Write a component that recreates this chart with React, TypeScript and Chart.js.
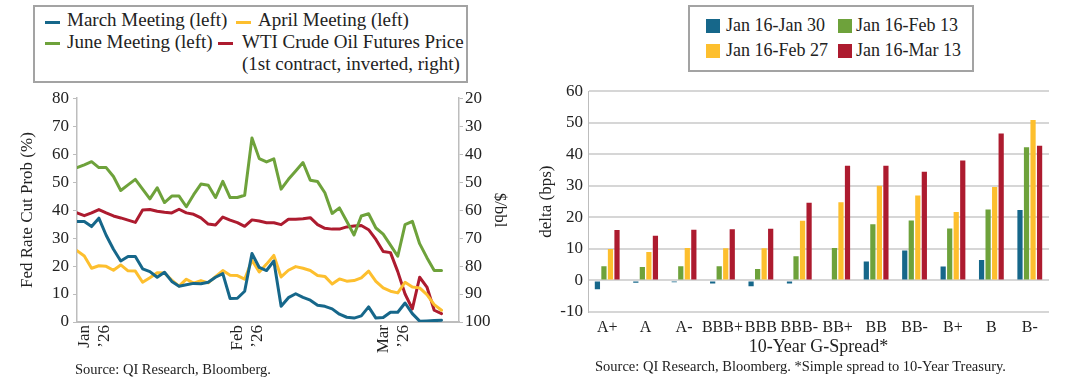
import React, { useEffect, useRef } from "react";
import { Chart, registerables } from "chart.js";
Chart.register(...registerables);

// ---------- Left chart data ----------
const dates = [
  "2025-12-31", "2026-01-02", "2026-01-05", "2026-01-06", "2026-01-07", "2026-01-08", "2026-01-09",
  "2026-01-12", "2026-01-13", "2026-01-14", "2026-01-15", "2026-01-16",
  "2026-01-19", "2026-01-20", "2026-01-21", "2026-01-22", "2026-01-23",
  "2026-01-26", "2026-01-27", "2026-01-28", "2026-01-29", "2026-01-30",
  "2026-02-02", "2026-02-03", "2026-02-04", "2026-02-05", "2026-02-06",
  "2026-02-09", "2026-02-10", "2026-02-11", "2026-02-12", "2026-02-13",
  "2026-02-16", "2026-02-17", "2026-02-18", "2026-02-19", "2026-02-20",
  "2026-02-23", "2026-02-24", "2026-02-25", "2026-02-26", "2026-02-27",
  "2026-03-02", "2026-03-03", "2026-03-04", "2026-03-05", "2026-03-06",
  "2026-03-09", "2026-03-10", "2026-03-11", "2026-03-12",
];
const marchMeeting = [
  35.9, 35.9, 34.1, 37.1, 31, 26, 21.8, 23.4, 23.4, 19,
  18, 16, 17.8, 14.5, 12.8, 13.3, 13.8, 13.7, 14.2, 16,
  17.3, 8.4, 8.5, 11, 24.5, 19.5, 18.4, 21.8, 5.6, 8.7,
  10.1, 8.8, 7.8, 6, 5.6, 4.7, 2.8, 1.7, 1.4, 2.2,
  5.4, 1.4, 1.6, 3.5, 3.5, 6.8, 3, 0.3, 0.4, 0.5, 0.6,
];
const aprilMeeting = [
  25.5, 23.6, 19.2, 20.1, 19.9, 18.5, 20.4, 18.3, 18.2, 14.2,
  15.8, 17.6, 17.5, 15, 12.8, 15.3, 13.9, 14.8, 14, 16.2,
  18.4, 16.7, 16.6, 15.3, 22.1, 17.9, 20.7, 23.8, 16.1, 18.5,
  19.8, 19.2, 18.4, 16.6, 16.3, 13.6, 15.4, 14.6, 14.8, 15.8,
  18.2, 14.5, 12.2, 11, 10.4, 14.2, 12.5, 12.2, 9.8, 6.2, 4.2,
];
const juneMeeting = [
  55.2, 56.2, 57.3, 55.2, 55.2, 52, 47, 49, 51, 47.5,
  44, 48, 42.7, 45, 45, 41.2, 45.5, 49.3, 48.9, 44.5,
  50.3, 44.5, 44.5, 45.3, 65.8, 58.4, 57.2, 58.3, 47.5, 51,
  54, 57, 50.7, 50.2, 46.2, 38.8, 40.8, 36, 31.1, 37.9,
  38.7, 33.6, 31.4, 27.5, 23.5, 34.8, 36, 28, 23, 18.4, 18.4,
];
const wtiPrice = [
  61, 62, 61, 59.8, 61, 62.1, 62.8, 63.6, 64.4, 60,
  59.8, 60.4, 60.8, 61, 59.7, 61, 61.5, 62.8, 65, 65.3,
  62.5, 63.6, 64.5, 65.8, 63.5, 63.9, 64.5, 64.5, 65.2, 63.3,
  63.3, 63.1, 62.7, 65.2, 66.5, 66.8, 66.8, 66, 65.7, 65.5,
  67, 70.5, 74.8, 75.2, 82, 90, 95.3, 84, 87.5, 95.8, 97,
];
const monthTickDates = ["2026-01-02", "2026-02-02", "2026-03-02"];
const monthTickLabels = [["Jan", "\u201926"], ["Feb", "\u201926"], ["Mar", "\u201926"]];

// ---------- Right chart data ----------
const ratings = ["A+", "A", "A-", "BBB+", "BBB", "BBB-", "BB+", "BB", "BB-", "B+", "B", "B-"];
const jan16Jan30 = [-2.8, -0.7, -0.6, -1, -1.8, -1, 0, 6, 9.5, 4.4, 6.5, 22.3];
const jan16Feb13 = [4.5, 4.3, 4.5, 4.5, 3.6, 7.7, 10.3, 17.8, 19, 16.5, 22.5, 42.2];
const jan16Feb27 = [10, 9, 10.3, 10.2, 10.2, 18.9, 24.8, 30, 26.9, 21.7, 29.6, 50.9];
const jan16Mar13 = [16, 14.2, 16.1, 16.2, 16.4, 24.6, 36.4, 36.4, 34.5, 38, 46.6, 42.7];

const BLUE = "#16678a";
const YELLOW = "#fdbf2e";
const GREEN = "#6ea23b";
const RED = "#ad1b2f";
const TEXT = "#222222";
const AXIS = "#bdbdbd";
const FAMILY = "'Liberation Serif', 'Times New Roman', serif";
const font = { family: FAMILY, size: 17 };

function LineChart() {
  const ref = useRef<HTMLCanvasElement>(null);
  useEffect(() => {
    const tickIdx = monthTickDates.map((d) => dates.indexOf(d));
    const xy = (arr: number[]) => arr.map((v, i) => ({ x: i, y: v }));
    const chart = new Chart(ref.current!, {
      type: "line",
      data: {
        datasets: [
          { label: "March Meeting (left)", data: xy(marchMeeting), borderColor: BLUE, yAxisID: "y" },
          { label: "April Meeting (left)", data: xy(aprilMeeting), borderColor: YELLOW, yAxisID: "y" },
          { label: "June Meeting (left)", data: xy(juneMeeting), borderColor: GREEN, yAxisID: "y" },
          { label: "WTI Crude Oil Futures Price (1st contract, inverted, right)", data: xy(wtiPrice), borderColor: RED, yAxisID: "y2" },
        ],
      },
      options: {
        responsive: false,
        animation: false,
        layout: { padding: { top: 12, left: 0, right: 0, bottom: 0 } },
        plugins: { legend: { display: false }, tooltip: { enabled: false } },
        elements: {
          point: { radius: 0 },
          line: { borderWidth: 3, tension: 0, borderJoinStyle: "round", borderCapStyle: "round" },
        },
        scales: {
          x: {
            type: "linear",
            min: 0,
            max: 52.4,
            afterBuildTicks: (s: any) => {
              s.ticks = tickIdx.map((v) => ({ value: v }));
            },
            ticks: {
              autoSkip: false,
              minRotation: 90,
              maxRotation: 90,
              padding: 3,
              color: TEXT,
              font,
              callback: (v: any) => {
                const k = tickIdx.indexOf(Number(v));
                return k >= 0 ? monthTickLabels[k] : "";
              },
            },
            grid: { display: false, drawTicks: false },
            border: { display: true, color: AXIS, width: 2 },
            afterFit: (s: any) => {
              s.height = 40;
            },
          },
          y: {
            position: "left",
            min: 0,
            max: 80,
            ticks: { stepSize: 10, padding: 4, color: TEXT, font },
            grid: { drawOnChartArea: false, drawTicks: true, tickLength: 4, color: AXIS },
            border: { display: true, color: AXIS, width: 1.5 },
            title: { display: true, text: "Fed Rate Cut Prob (%)", color: TEXT, font, padding: { top: 17, bottom: 0 } },
            afterFit: (s: any) => {
              s.width = 77;
            },
          },
          y2: {
            position: "right",
            min: 20,
            max: 100,
            reverse: true,
            ticks: { stepSize: 10, padding: 2, color: TEXT, font },
            grid: { drawOnChartArea: false, drawTicks: true, tickLength: 4, color: AXIS },
            border: { display: true, color: AXIS, width: 1.5 },
            title: { display: true, text: "$/bbl", color: TEXT, font, padding: { top: 10, bottom: 0 } },
            afterFit: (s: any) => {
              s.width = 61;
            },
          },
        },
      } as any,
    });
    return () => chart.destroy();
  }, []);
  return <canvas ref={ref} width={520} height={278} style={{ position: "absolute", left: 0, top: 84 }} />;
}

function BarChart() {
  const ref = useRef<HTMLCanvasElement>(null);
  useEffect(() => {
    const chart = new Chart(ref.current!, {
      type: "bar",
      data: {
        labels: ratings,
        datasets: [
          { label: "Jan 16-Jan 30", data: jan16Jan30, backgroundColor: BLUE },
          { label: "Jan 16-Feb 13", data: jan16Feb13, backgroundColor: GREEN },
          { label: "Jan 16-Feb 27", data: jan16Feb27, backgroundColor: YELLOW },
          { label: "Jan 16-Mar 13", data: jan16Mar13, backgroundColor: RED },
        ],
      },
      options: {
        responsive: false,
        animation: false,
        layout: { padding: { top: 10, right: 31, left: 0, bottom: 0 } },
        plugins: { legend: { display: false }, tooltip: { enabled: false } },
        datasets: { bar: { categoryPercentage: 0.68, barPercentage: 0.8 } },
        scales: {
          x: {
            grid: { display: false, drawTicks: false },
            border: { display: false },
            ticks: { padding: 6, color: TEXT, font: { family: FAMILY, size: 16 }, maxRotation: 0, autoSkip: false },
            title: { display: true, text: "10-Year G-Spread*", color: TEXT, font: { family: FAMILY, size: 18 }, padding: { top: 0, bottom: 0 } },
            afterFit: (s: any) => {
              s.height = 46;
            },
          },
          y: {
            min: -10,
            max: 60,
            ticks: { stepSize: 10, padding: 5, color: TEXT, font },
            grid: { color: "#d6d6d6", lineWidth: 2, drawTicks: false },
            border: { display: true, color: AXIS, width: 1 },
            title: { display: true, text: "delta (bps)", color: TEXT, font, padding: { top: 2, bottom: 0 } },
            afterFit: (s: any) => {
              s.width = 54;
            },
          },
        },
      } as any,
    });
    return () => chart.destroy();
  }, []);
  return <canvas ref={ref} width={546} height={282} style={{ position: "absolute", left: 534, top: 76 }} />;
}

// Text positioned by its baseline (Liberation Serif metrics)
const txt = (left: number, baseline: number, text: string, size: number): React.ReactElement => {
  const lh = Math.round(size * 1.2);
  const top = baseline - ((lh - 1.107 * size) / 2 + 0.891 * size);
  return (
    <div
      key={text + left + baseline}
      style={{
        position: "absolute",
        left,
        top,
        lineHeight: lh + "px",
        fontSize: size,
        color: TEXT,
        whiteSpace: "nowrap",
        fontFamily: FAMILY,
      }}
    >
      {text}
    </div>
  );
};

const lineSwatch = (left: number, center: number, color: string) => (
  <div key={"l" + left + center} style={{ position: "absolute", left, top: center - 1.5, width: 15, height: 3, background: color }} />
);
const boxSwatch = (left: number, top: number, color: string) => (
  <div key={"b" + left + top} style={{ position: "absolute", left, top, width: 14, height: 14, background: color }} />
);

export default function App() {
  return (
    <div
      style={{
        position: "fixed",
        left: 0,
        top: 0,
        width: 1080,
        height: 380,
        background: "#fff",
        overflow: "hidden",
        fontFamily: FAMILY,
      }}
    >
      {/* Left legend */}
      <div style={{ position: "absolute", left: 33, top: 5, width: 435, height: 78, border: "2px solid #a3a3a3", boxSizing: "border-box" }} />
      {lineSwatch(45, 22, BLUE)}
      {txt(67, 26, "March Meeting (left)", 19)}
      {lineSwatch(236, 22, YELLOW)}
      {txt(258, 26, "April Meeting (left)", 19)}
      {lineSwatch(45, 43.5, GREEN)}
      {txt(67, 48, "June Meeting (left)", 19)}
      {lineSwatch(218, 43.5, RED)}
      {txt(242, 48, "WTI Crude Oil Futures Price", 19)}
      {txt(242, 69.5, "(1st contract, inverted, right)", 19)}

      {/* Right legend */}
      <div style={{ position: "absolute", left: 688, top: 5, width: 286, height: 67, border: "2px solid #a3a3a3", boxSizing: "border-box" }} />
      {boxSwatch(706, 19, BLUE)}
      {txt(726, 31, "Jan 16-Jan 30", 18)}
      {boxSwatch(838, 19, GREEN)}
      {txt(856, 31, "Jan 16-Feb 13", 18)}
      {boxSwatch(706, 44, YELLOW)}
      {txt(726, 56, "Jan 16-Feb 27", 18)}
      {boxSwatch(838, 44, RED)}
      {txt(856, 56, "Jan 16-Mar 13", 18)}

      <LineChart />
      <BarChart />

      {txt(75, 374, "Source: QI Research, Bloomberg.", 14.5)}
      {txt(595, 371.5, "Source: QI Research, Bloomberg. *Simple spread to 10-Year Treasury.", 14.5)}
    </div>
  );
}
